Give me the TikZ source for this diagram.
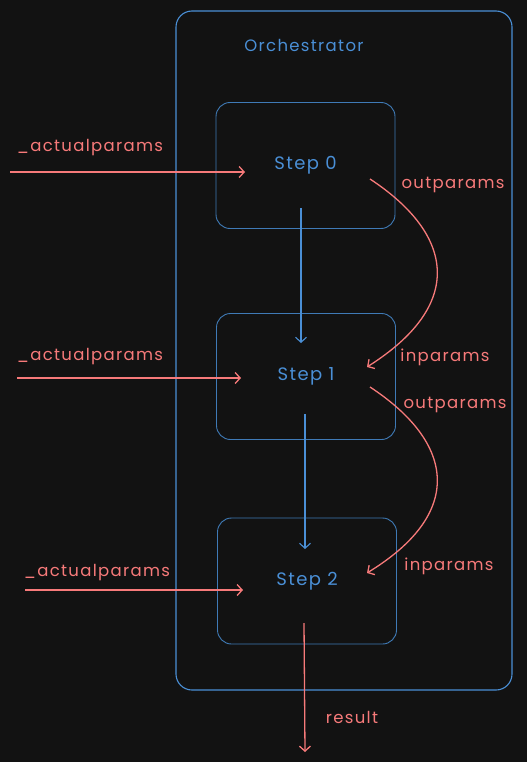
\documentclass[tikz,border=0pt]{standalone}
\usepackage{fontspec}
\setmainfont{Poppins}[LetterSpace=8]
\usetikzlibrary{arrows.meta,positioning}
\definecolor{bgGrey}{HTML}{121212}
\definecolor{flowBlue}{HTML}{4A8FD6}
\definecolor{paramRed}{HTML}{F77A7A}

\begin{document}
\begin{tikzpicture}[x=1pt,y=-1pt,>={Straight Barb[length=5pt,width=11pt]},font=\fontsize{16.5}{18}\selectfont,
    stepbox/.style={draw=flowBlue!85!black,line width=0.9pt,rounded corners=14pt,minimum width=179pt,minimum height=126pt,text=flowBlue,font=\fontsize{18}{20}\selectfont},
    framebox/.style={draw=flowBlue,line width=1.1pt,rounded corners=16pt,minimum width=336pt,minimum height=679pt},
    redline/.style={->,paramRed,line width=1.3pt},
    blueline/.style={->,flowBlue,line width=1.1pt},
    redlabel/.style={text=paramRed}]

    \fill[bgGrey] (0,0) rectangle (527,762);
    \useasboundingbox (0,0) rectangle (527,762);

    \node[framebox] (orchestratorNode) at (344,350.5) {};
    \node[text=flowBlue] (orchestratorLabel) at (304,45) {Orchestrator};

    \node[stepbox] (stepZeroNode) at (305.5,165.5) {Step 0};
    \node[stepbox] (stepOneNode) at (306,376.5) {Step 1};
    \node[stepbox] (stepTwoNode) at (307,581) {Step 2};

    \coordinate (zeroInNode) at (10,172);
    \coordinate (zeroEndNode) at (245,172);
    \coordinate (oneInNode) at (17,378);
    \coordinate (oneEndNode) at (241,378);
    \coordinate (twoInNode) at (25,590);
    \coordinate (twoEndNode) at (243,590);

    \coordinate (zeroOutNode) at (370,179);
    \coordinate (oneParamNode) at (367,367);
    \coordinate (oneOutNode) at (370,387);
    \coordinate (twoParamNode) at (367,573);

    \coordinate (zeroDownNode) at (301,208);
    \coordinate (oneTopNode) at (301,343);
    \coordinate (oneDownNode) at (305,414);
    \coordinate (twoTopNode) at (305,549);
    \coordinate (twoDownNode) at (304,623);
    \coordinate (resultNode) at (305,752);

    \draw[redline] (zeroInNode) -- (zeroEndNode);
    \draw[redline] (oneInNode) -- (oneEndNode);
    \draw[redline] (twoInNode) -- (twoEndNode);

    \node[redlabel] (actualZeroLabel) at (90,148) {\_actualparams};
    \node[redlabel] (actualOneLabel) at (90,357) {\_actualparams};
    \node[redlabel] (actualTwoLabel) at (97,573) {\_actualparams};

    \draw[redline] (zeroOutNode) .. controls (455,235) and (465,305) .. (oneParamNode);
    \draw[redline] (oneOutNode) .. controls (455,443) and (465,513) .. (twoParamNode);

    \node[redlabel] (outZeroLabel) at (453,185) {outparams};
    \node[redlabel] (inOneLabel) at (445,357) {inparams};
    \node[redlabel] (outOneLabel) at (455,405) {outparams};
    \node[redlabel] (inTwoLabel) at (449,566) {inparams};

    \draw[blueline] (zeroDownNode) -- (oneTopNode);
    \draw[blueline] (oneDownNode) -- (twoTopNode);

    \draw[redline] (twoDownNode) -- (resultNode);
    \node[redlabel] (resultLabel) at (352,717) {result};

\end{tikzpicture}
\end{document}
